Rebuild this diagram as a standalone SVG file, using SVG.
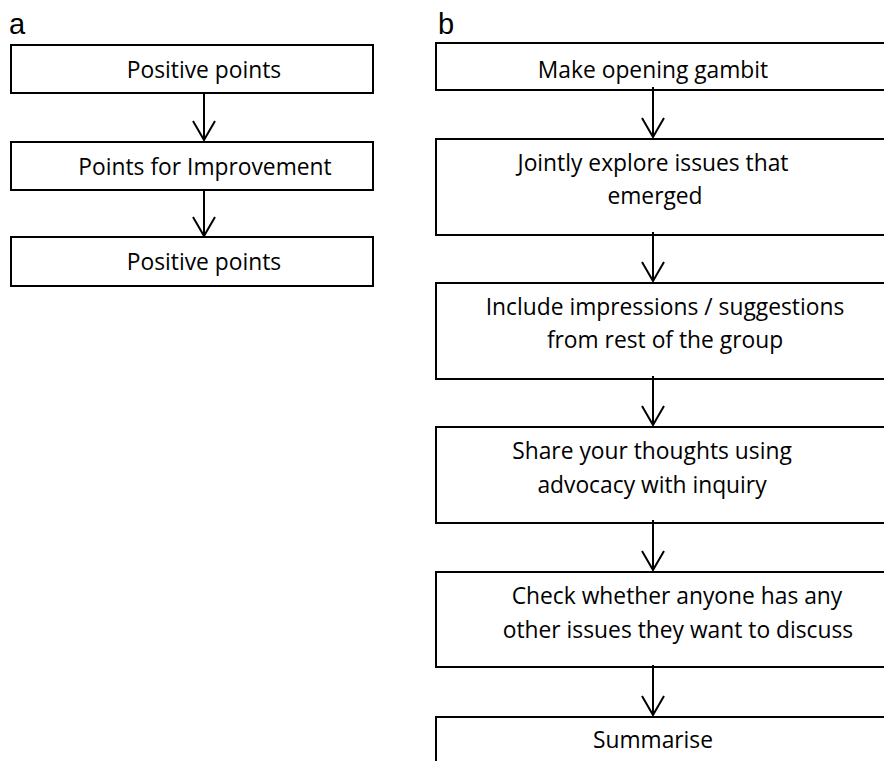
<svg xmlns="http://www.w3.org/2000/svg" width="884" height="761" viewBox="0 0 884 761">
<style>
  .box { fill: #ffffff; stroke: #000000; stroke-width: 2; }
  .lbl { font-family: "Open Sans", "Liberation Sans", sans-serif; font-size: 22.8px; fill: #000000; text-anchor: middle; }
  .panel { font-family: "Liberation Sans", "DejaVu Sans", sans-serif; font-size: 29px; fill: #000000; }
  .conn { stroke: #000000; stroke-width: 2; fill: none; }
</style>
<defs>
  <marker id="arrow" viewBox="-21 -13 23 26" markerWidth="23" markerHeight="26" refX="0" refY="0" markerUnits="userSpaceOnUse" orient="auto" overflow="visible">
    <path d="M-19,-11 L0,0 L-19,11" fill="none" stroke="#000000" stroke-width="2"/>
  </marker>
</defs>
<rect x="0" y="0" width="884" height="761" fill="#ffffff"/>
<text class="panel" x="9" y="34">a</text>
<text class="panel" x="438" y="34">b</text>

<g id="a1"><rect class="box" x="11" y="45" width="362" height="48"/><text class="lbl" x="204" y="78">Positive points</text></g>
<g id="a2"><rect class="box" x="11" y="142" width="362" height="48"/><text class="lbl" x="205" y="175">Points for Improvement</text></g>
<g id="a3"><rect class="box" x="11" y="237" width="362" height="49"/><text class="lbl" x="204" y="270">Positive points</text></g>

<g id="b1"><rect class="box" x="436" y="43" width="460" height="47"/><text class="lbl" x="653" y="78">Make opening gambit</text></g>
<g id="b2"><rect class="box" x="436" y="139" width="460" height="96"/><text class="lbl" x="653" y="171">Jointly explore  issues that</text><text class="lbl" x="655" y="204">emerged</text></g>
<g id="b3"><rect class="box" x="436" y="283" width="460" height="96"/><text class="lbl" x="665" y="315">Include impressions / suggestions</text><text class="lbl" x="665" y="348">from rest of the group</text></g>
<g id="b4"><rect class="box" x="436" y="427" width="460" height="96"/><text class="lbl" x="652" y="459">Share your thoughts using</text><text class="lbl" x="652" y="493">advocacy with inquiry</text></g>
<g id="b5"><rect class="box" x="436" y="572" width="460" height="95"/><text class="lbl" x="677" y="604">Check whether  anyone has any</text><text class="lbl" x="678" y="638">other issues they want to discuss</text></g>
<g id="b6"><rect class="box" x="436" y="717" width="460" height="60"/><text class="lbl" x="653" y="748">Summarise</text></g>

<g id="connectors">
  <line class="conn" x1="204" y1="93" x2="204" y2="140" marker-end="url(#arrow)"/>
  <line class="conn" x1="204" y1="190" x2="204" y2="236" marker-end="url(#arrow)"/>
  <line class="conn" x1="653" y1="87" x2="653" y2="137" marker-end="url(#arrow)"/>
  <line class="conn" x1="653" y1="232" x2="653" y2="281" marker-end="url(#arrow)"/>
  <line class="conn" x1="653" y1="376" x2="653" y2="425" marker-end="url(#arrow)"/>
  <line class="conn" x1="653" y1="520" x2="653" y2="570" marker-end="url(#arrow)"/>
  <line class="conn" x1="653" y1="665" x2="653" y2="715" marker-end="url(#arrow)"/>
</g>
</svg>
